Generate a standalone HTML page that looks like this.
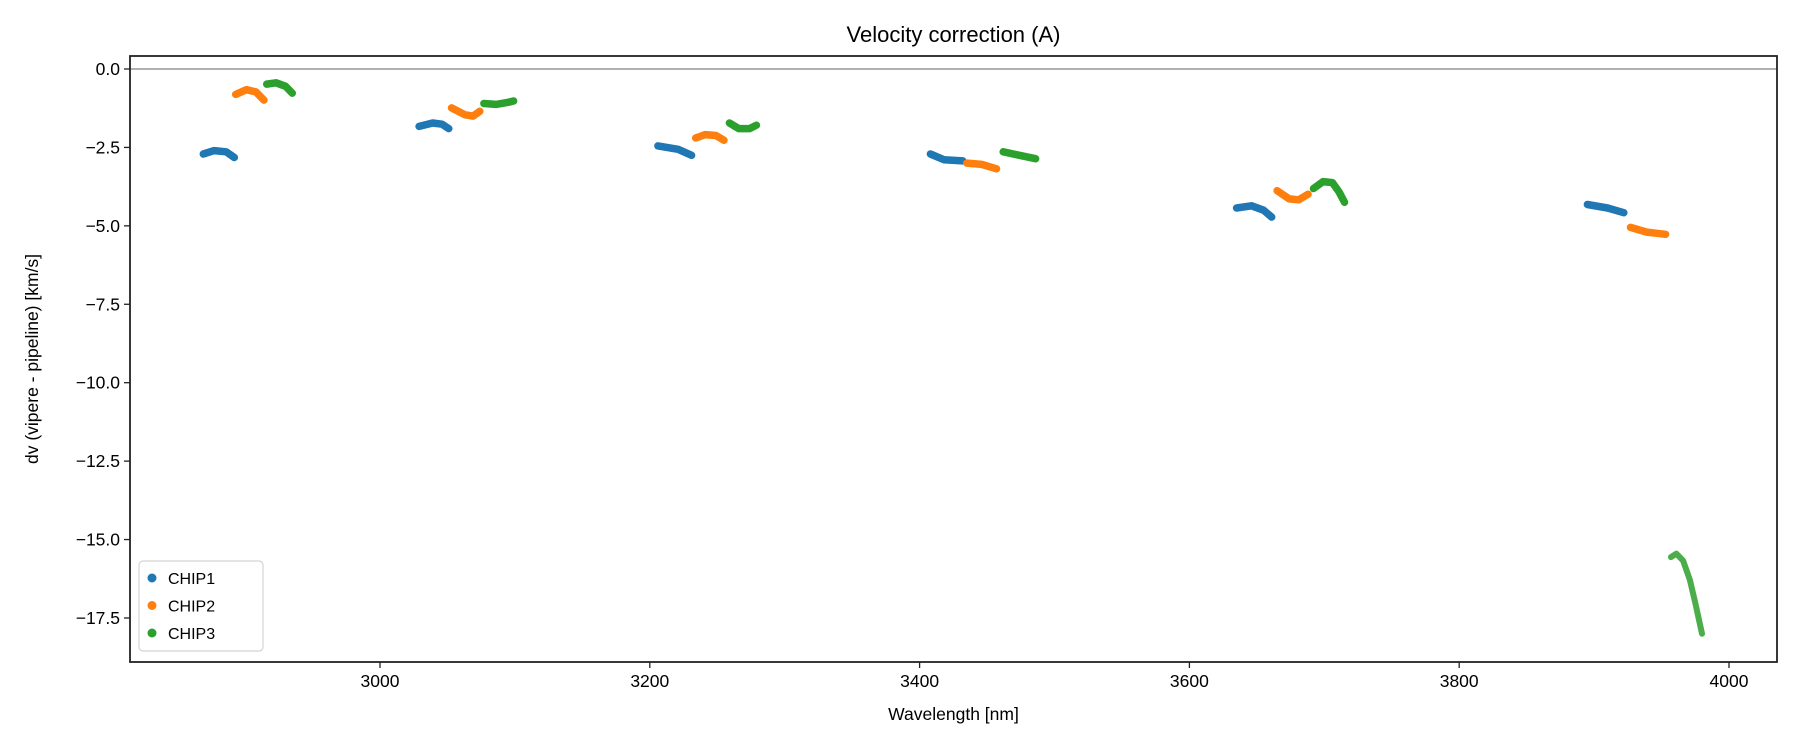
<!DOCTYPE html>
<html><head><meta charset="utf-8">
<style>
html,body{margin:0;padding:0;background:#fff;}
svg{display:block;font-family:"Liberation Sans","DejaVu Sans",sans-serif;}
</style></head>
<body>
<svg id="chart" width="1800" height="750" viewBox="0 0 1800 750"></svg>
<script>
const xTicks=[3000,3200,3400,3600,3800,4000];
const yTicks=[0,-2.5,-5,-7.5,-10,-12.5,-15,-17.5];
const yTickLabels=["0.0","\u22122.5","\u22125.0","\u22127.5","\u221210.0","\u221212.5","\u221215.0","\u221217.5"];
const seriesNames=["CHIP1","CHIP2","CHIP3"];
const chip1Wl=[[2869,2877,2886,2892],[3029,3039,3046,3051],[3206,3221,3231],[3408,3418,3432],[3635,3646,3655,3661],[3895,3910,3922]];
const chip1Dv=[[-2.71,-2.60,-2.64,-2.82],[-1.83,-1.72,-1.76,-1.90],[-2.45,-2.56,-2.75],[-2.71,-2.89,-2.93],[-4.43,-4.36,-4.50,-4.72],[-4.32,-4.43,-4.58]];
const chip2Wl=[[2893,2901,2908,2914],[3053,3063,3069,3074],[3234,3241,3249,3255],[3435,3446,3457],[3665,3674,3681,3688],[3927,3939,3953]];
const chip2Dv=[[-0.81,-0.66,-0.73,-0.99],[-1.24,-1.46,-1.50,-1.35],[-2.20,-2.09,-2.12,-2.27],[-3.0,-3.04,-3.18],[-3.88,-4.14,-4.17,-3.99],[-5.05,-5.2,-5.27]];
const chip3Wl=[[2916,2923,2930,2935],[3077,3086,3095,3099],[3259,3266,3274,3279],[3462,3474,3486],[3692,3699,3706,3711,3715],[3957,3961,3966,3971,3975,3980]];
const chip3Dv=[[-0.48,-0.44,-0.55,-0.77],[-1.10,-1.13,-1.06,-1.02],[-1.72,-1.90,-1.90,-1.79],[-2.64,-2.75,-2.86],[-3.81,-3.59,-3.62,-3.92,-4.25],[-15.56,-15.45,-15.67,-16.29,-17.02,-18.0]];

const NS="http://www.w3.org/2000/svg";
const svg=document.getElementById('chart');
const L=130,R=1777,T=56,B=662;
function X(v){return 380+(v-3000)*269.8/200;}
function Y(v){return 69-v*31.37;}
function mk(tag,attrs,parent){const e=document.createElementNS(NS,tag);for(const k in attrs)e.setAttribute(k,attrs[k]);(parent||svg).appendChild(e);return e;}

const title=mk('text',{x:(L+R)/2,y:42,'text-anchor':'middle','font-size':22,fill:'#000'});
title.textContent='Velocity correction (A)';



const zl=mk('line',{x1:L,x2:R,y1:Y(0),y2:Y(0),stroke:'#808080','stroke-width':1.2});



const colors=['#1f77b4','#ff7f0e','#2ca02c'];
const wls=[chip1Wl,chip2Wl,chip3Wl], dvs=[chip1Dv,chip2Dv,chip3Dv];
for(let s=0;s<3;s++){
  const g=mk('g',{});
  
  
  for(let k=0;k<wls[s].length;k++){
    const pts=wls[s][k].map((w,i)=>X(w).toFixed(1)+','+Y(dvs[s][k][i]).toFixed(1)).join(' ');
    const pl=mk('polyline',{points:pts,fill:'none',stroke:colors[s],'stroke-width':(s===2&&k===5)?6:7.5,'stroke-linecap':'round','stroke-linejoin':'round',opacity:(s===2&&k===5)?0.85:1},g);
    
    
  }
}

const frame=mk('rect',{x:L,y:T,width:R-L,height:B-T,fill:'none',stroke:'#222','stroke-width':1.8});



xTicks.forEach(t=>{
  mk('line',{x1:X(t),x2:X(t),y1:B,y2:B+6,stroke:'#222','stroke-width':1.3});
  const tx=mk('text',{x:X(t),y:B+25,'text-anchor':'middle','font-size':17.5,fill:'#000'});
  tx.textContent=t;
  
  
});
yTicks.forEach((t,i)=>{
  mk('line',{x1:L-6,x2:L,y1:Y(t),y2:Y(t),stroke:'#222','stroke-width':1.3});
  const tx=mk('text',{x:L-10,y:Y(t)+6,'text-anchor':'end','font-size':17.5,fill:'#000'});
  tx.textContent=yTickLabels[i];
  
  
});

const xl=mk('text',{x:(L+R)/2,y:720,'text-anchor':'middle','font-size':17.5,fill:'#000'});
xl.textContent='Wavelength [nm]';


const yl=mk('text',{x:0,y:0,'text-anchor':'middle','font-size':17.5,fill:'#000',transform:'translate(38,'+((T+B)/2)+') rotate(-90)'});
yl.textContent='dv (vipere - pipeline) [km/s]';



const lg=mk('g',{});


mk('rect',{x:139,y:561,width:124,height:90,rx:4,fill:'#fff',stroke:'#d0d0d0','stroke-width':1.2,opacity:0.9},lg);
seriesNames.forEach((n,i)=>{
  const yy=578+i*27.5;
  const c=mk('circle',{cx:152,cy:yy,r:4.5,fill:colors[i]},lg);
  
  
  const t=mk('text',{x:168,y:yy+6,'font-size':16,fill:'#000'},lg);
  t.textContent=n;
  
  
});
</script>
</body></html>
